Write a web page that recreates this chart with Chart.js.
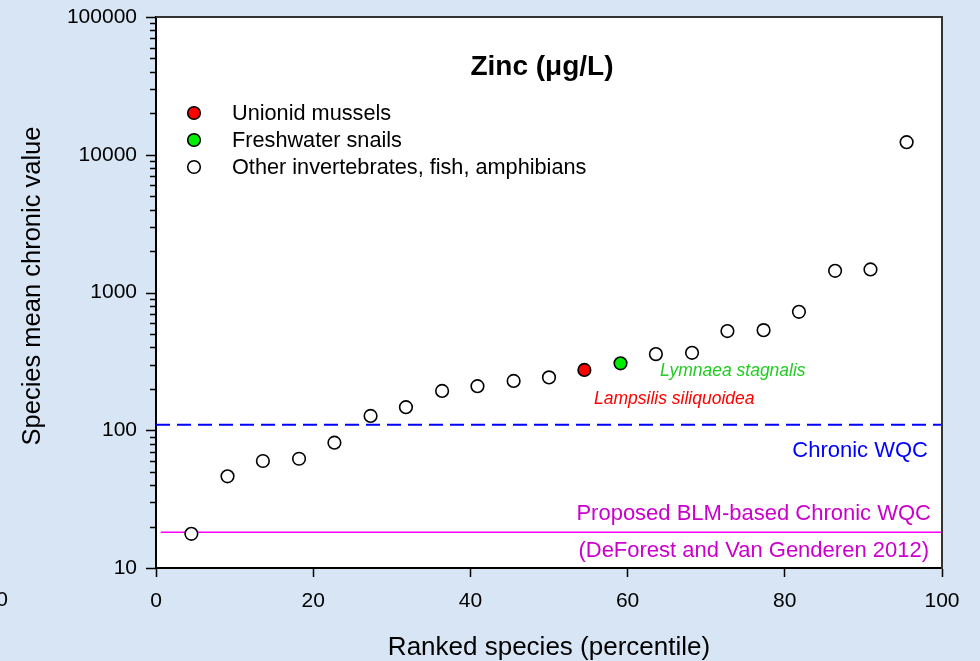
<!DOCTYPE html>
<html>
<head>
<meta charset="utf-8">
<title>Zinc species sensitivity</title>
<script src="https://cdn.jsdelivr.net/npm/chart.js@4.4.1/dist/chart.umd.min.js"></script>
<style>
  html, body { margin: 0; padding: 0; background: #d7e5f4; }
  #wrap { width: 980px; height: 661px; position: relative; overflow: hidden; }
  canvas { display: block; }
</style>
</head>
<body>
<div id="wrap"><canvas id="chart" width="980" height="661"></canvas></div>
<script>
// Ranked species (percentile) and species mean chronic values (µg/L)
const percentile = [4.5, 9.1, 13.6, 18.2, 22.7, 27.3, 31.8, 36.4, 40.9, 45.5, 50.0,
                    54.5, 59.1, 63.6, 68.2, 72.7, 77.3, 81.8, 86.4, 90.9, 95.5];
const chronicValue = [17.7, 46.3, 59.8, 62.1, 81.2, 127, 147, 193, 209, 228, 242,
                      274, 306, 357, 365, 525, 533, 724, 1437, 1471, 12340];
const group = ['other', 'other', 'other', 'other', 'other', 'other', 'other', 'other',
               'other', 'other', 'other', 'mussel', 'snail', 'other', 'other', 'other',
               'other', 'other', 'other', 'other', 'other'];

const groupLabels = {
  mussel: 'Unionid mussels',
  snail: 'Freshwater snails',
  other: 'Other invertebrates, fish, amphibians'
};
const groupColors = { mussel: '#ff0000', snail: '#00ee00', other: '#ffffff' };

// Criteria lines (µg/L)
const chronicWQC = 109.6;
const blmChronicWQC = 18.2;
const blmStart = 0.6;

const xTicks = [0, 20, 40, 60, 80, 100];
const yDecades = [10, 100, 1000, 10000, 100000];

const FONT = '"Liberation Sans", Arial, Helvetica, sans-serif';

function pointsFor(key) {
  const out = [];
  percentile.forEach((p, i) => { if (group[i] === key) out.push({ x: p, y: chronicValue[i] }); });
  return out;
}

function scatterSet(key) {
  return {
    type: 'scatter',
    label: groupLabels[key],
    data: pointsFor(key),
    pointRadius: 6.3,
    pointBackgroundColor: groupColors[key],
    pointBorderColor: '#000000',
    pointBorderWidth: 1.6,
    showLine: false,
    order: 0
  };
}

// all tick positions of the log axis: 1..9 per decade
const yTickValues = [];
for (let d = 0; d < yDecades.length - 1; d++) {
  for (let m = 1; m <= 9; m++) yTickValues.push(m * yDecades[d]);
}
yTickValues.push(yDecades[yDecades.length - 1]);

const decorations = {
  id: 'decorations',
  beforeDraw(chart) {
    const { ctx, chartArea: a } = chart;
    ctx.save();
    ctx.fillStyle = '#ffffff';
    ctx.fillRect(a.left, a.top, a.right - a.left, a.bottom - a.top);
    ctx.restore();
  },
  afterDraw(chart) {
    const { ctx, chartArea: a } = chart;
    const ys = chart.scales.y;
    ctx.save();

    // frame on the top and right
    ctx.strokeStyle = '#333333';
    ctx.lineWidth = 2;
    ctx.beginPath();
    ctx.moveTo(a.left, a.top);
    ctx.lineTo(a.right, a.top);
    ctx.lineTo(a.right, a.bottom + 1);
    ctx.stroke();

    // y tick marks: long at decades, short in between
    ctx.strokeStyle = '#000000';
    ctx.lineWidth = 1.5;
    ys.ticks.forEach(t => {
      const py = Math.round(ys.getPixelForValue(t.value)) + 0.5;
      const len = yDecades.includes(t.value) ? 10 : 6;
      ctx.beginPath();
      ctx.moveTo(a.left, py);
      ctx.lineTo(a.left - len, py);
      ctx.stroke();
    });

    // y axis title
    ctx.save();
    ctx.translate(33, 286);
    ctx.rotate(-Math.PI / 2);
    ctx.fillStyle = '#000000';
    ctx.textAlign = 'center';
    ctx.textBaseline = 'middle';
    ctx.font = '25.5px ' + FONT;
    ctx.fillText('Species mean chronic value', 0, 0);
    ctx.restore();

    // title
    ctx.fillStyle = '#000000';
    ctx.textAlign = 'center';
    ctx.textBaseline = 'middle';
    ctx.font = 'bold 28px ' + FONT;
    ctx.fillText('Zinc (\u03bcg/L)', 542, 67);

    // legend
    const rows = [['mussel', 113], ['snail', 140], ['other', 167]];
    rows.forEach(([key, yy]) => {
      ctx.beginPath();
      ctx.arc(194, yy, 6.3, 0, Math.PI * 2);
      ctx.fillStyle = groupColors[key];
      ctx.fill();
      ctx.lineWidth = 1.6;
      ctx.strokeStyle = '#000000';
      ctx.stroke();
      ctx.fillStyle = '#000000';
      ctx.textAlign = 'left';
      ctx.font = '21.7px ' + FONT;
      ctx.fillText(groupLabels[key], 232, yy + 1);
    });

    // species labels
    ctx.textAlign = 'left';
    ctx.font = 'italic 17.5px ' + FONT;
    ctx.fillStyle = '#22cc22';
    ctx.fillText('Lymnaea stagnalis', 660, 371);
    ctx.fillStyle = '#ff0000';
    ctx.fillText('Lampsilis siliquoidea', 594, 399);

    // criteria labels
    ctx.textAlign = 'right';
    ctx.font = '22px ' + FONT;
    ctx.fillStyle = '#0000ff';
    ctx.fillText('Chronic WQC', 928, 451);
    ctx.fillStyle = '#cc00cc';
    ctx.fillText('Proposed BLM-based Chronic WQC', 931, 514);
    ctx.fillText('(DeForest and Van Genderen 2012)', 929, 551);

    // stray tick label at the left edge
    ctx.fillStyle = '#000000';
    ctx.font = '21px ' + FONT;
    ctx.fillText('0', 8, 600);

    ctx.restore();
  }
};

new Chart(document.getElementById('chart'), {
  data: {
    datasets: [
      scatterSet('mussel'),
      scatterSet('snail'),
      scatterSet('other'),
      {
        type: 'line',
        label: 'Chronic WQC',
        data: [{ x: 0, y: chronicWQC }, { x: 100, y: chronicWQC }],
        borderColor: '#0000ff',
        borderWidth: 2,
        borderDash: [14, 7],
        pointRadius: 0,
        order: 1
      },
      {
        type: 'line',
        label: 'Proposed BLM-based Chronic WQC',
        data: [{ x: blmStart, y: blmChronicWQC }, { x: 100, y: blmChronicWQC }],
        borderColor: '#ff00ff',
        borderWidth: 1.5,
        pointRadius: 0,
        order: 1
      }
    ]
  },
  options: {
    responsive: false,
    animation: false,
    devicePixelRatio: 1,
    events: [],
    layout: { padding: { left: 0, top: 17, right: 38, bottom: 0 } },
    plugins: { legend: { display: false }, tooltip: { enabled: false }, title: { display: false } },
    scales: {
      x: {
        type: 'linear',
        position: 'bottom',
        min: 0,
        max: 100,
        afterBuildTicks: s => { s.ticks = xTicks.map(v => ({ value: v })); },
        afterFit: s => { s.height = 93; },
        border: { display: true, color: '#000000', width: 2 },
        grid: { display: true, drawOnChartArea: false, drawTicks: true, tickLength: 9, tickColor: '#000000', tickWidth: 1.5 },
        ticks: { color: '#000000', font: { family: FONT, size: 21 }, padding: 12, maxRotation: 0, autoSkip: false },
        title: {
          display: true,
          text: 'Ranked species (percentile)',
          color: '#000000',
          font: { family: FONT, size: 26, lineHeight: 1.05 },
          padding: { top: 0, bottom: 0 }
        }
      },
      y: {
        type: 'logarithmic',
        position: 'left',
        min: 10,
        max: 100000,
        afterBuildTicks: s => { s.ticks = yTickValues.map(v => ({ value: v, major: yDecades.includes(v) })); },
        afterFit: s => { s.width = 156; },
        border: { display: true, color: '#000000', width: 2 },
        grid: { display: true, drawOnChartArea: false, drawTicks: true, tickLength: 19, tickColor: 'rgba(0,0,0,0)' },
        ticks: {
          color: '#000000',
          font: { family: FONT, size: 21 },
          padding: 0,
          autoSkip: false,
          callback: v => (yDecades.includes(v) ? String(v) : '')
        },
        title: { display: false }
      }
    }
  },
  plugins: [decorations]
});
</script>
</body>
</html>
